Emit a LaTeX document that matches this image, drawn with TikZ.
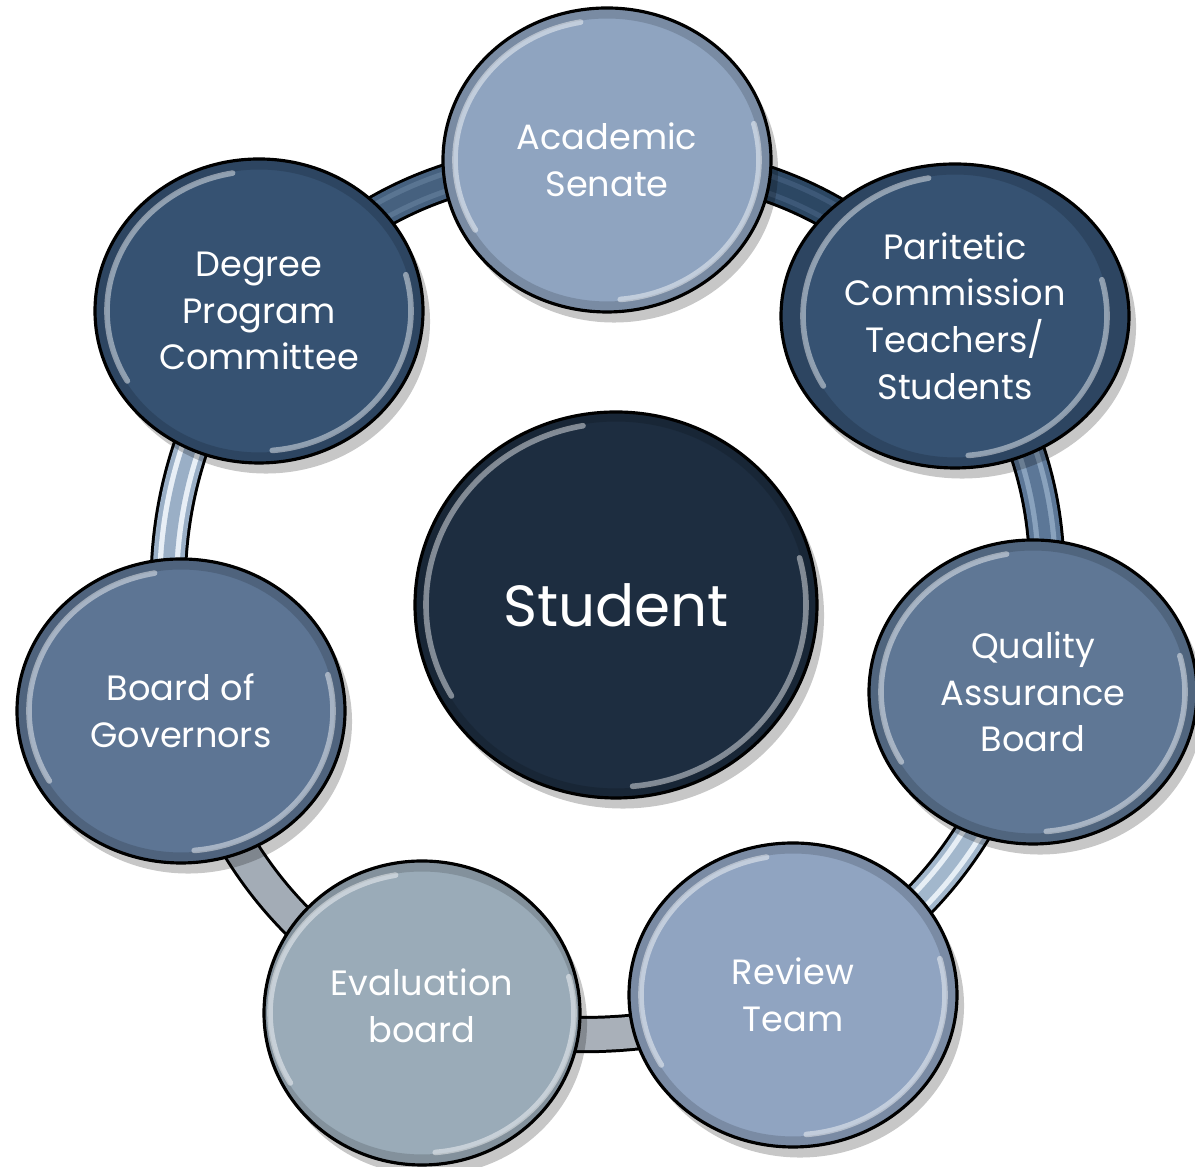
\documentclass[tikz,border=0pt]{standalone}
\usepackage{fontspec}
\setmainfont{Poppins}
\usetikzlibrary{shapes.geometric,shadows,backgrounds}

\definecolor{senatec}{HTML}{8FA4C0}
\definecolor{paritc}{HTML}{365272}
\definecolor{qualc}{HTML}{5F7795}
\definecolor{reviewc}{HTML}{90A4C1}
\definecolor{evalc}{HTML}{9AABB8}
\definecolor{govc}{HTML}{5D7594}
\definecolor{degreec}{HTML}{365272}
\definecolor{studentc}{HTML}{1D2D40}

% glossy rim inside an ellipse of radii #1 and #2 (cm)
\newcommand\glint[2]{
  \draw[black,opacity=.15,line width=6pt]
    (path picture bounding box.center) ellipse[x radius=#1cm+.12cm,y radius=#2cm+.12cm];
  \draw[white,opacity=.45,line width=1.6pt,line cap=round]
    ([shift={(100:#1cm and #2cm)}]path picture bounding box.center)
    arc[start angle=100,end angle=210,x radius=#1cm,y radius=#2cm];
  \draw[white,opacity=.45,line width=1.6pt,line cap=round]
    ([shift={(-85:#1cm and #2cm)}]path picture bounding box.center)
    arc[start angle=-85,end angle=15,x radius=#1cm,y radius=#2cm];}

\tikzset{
  ball/.style={ellipse,draw=black,line width=.9pt,fill=#1,
    minimum width=3.28cm,minimum height=3.04cm,inner sep=0pt,
    text=white,align=center,font=\fontsize{10}{13.3}\selectfont,
    drop shadow={shadow xshift=2pt,shadow yshift=-3pt,opacity=.22,fill=black},
    path picture={\glint{1.52}{1.40}}},
  hub/.style={ball=#1,minimum width=4.02cm,minimum height=3.86cm,
    font=\fontsize{16.5}{20}\selectfont,path picture={\glint{1.90}{1.82}}},
  link/.style 2 args={draw=black,line width=10.6pt,
    postaction={draw=#1,line width=8.9pt},
    postaction={draw=#2,line width=1.5pt,double=#1,double distance=3.3pt}}
}

\begin{document}
\begin{tikzpicture}
\useasboundingbox (0,0) rectangle (11.95,11.67);

\node[hub=studentc] (student) at (6.16,5.62) {Student};

\node[ball=senatec] (senate) at (6.07,10.07) {Academic\\Senate};
\node[ball=paritc,minimum width=3.48cm] (paritetic) at (9.55,8.51) {Paritetic\\Commission\\Teachers/\\Students};
\node[ball=qualc] (quality) at (10.33,4.75) {Quality\\Assurance\\Board};
\node[ball=reviewc] (review) at (7.93,1.72) {Review\\Team};
\node[ball=evalc,minimum width=3.16cm,text depth=.14cm] (evaluation) at (4.22,1.54) {Evaluation\\board};
\node[ball=govc] (governors) at (1.81,4.56) {Board of\\Governors};
\node[ball=degreec] (degree) at (2.59,8.56) {Degree\\Program\\Committee};

\begin{pgfonlayer}{background}
\foreach \a/\b/\c/\s/\k in {degree/senate/46617F/5A7592/24,
    senate/paritetic/2C4763/3D5877/24,
    paritetic/quality/5C7797/89A2BD/24,
    quality/review/A2B7CC/E6EEF5/22,
    review/evaluation/A9B0B9/A9B0B9/16,
    evaluation/governors/A3ACB6/A3ACB6/22,
    governors/degree/9AAFC6/E8EFF6/22} {
  \definecolor{lc}{HTML}{\c}\definecolor{sc}{HTML}{\s}
  \draw[link={lc}{sc}] (\a.center) to[bend left=\k] (\b.center);}
\end{pgfonlayer}
\end{tikzpicture}
\end{document}
